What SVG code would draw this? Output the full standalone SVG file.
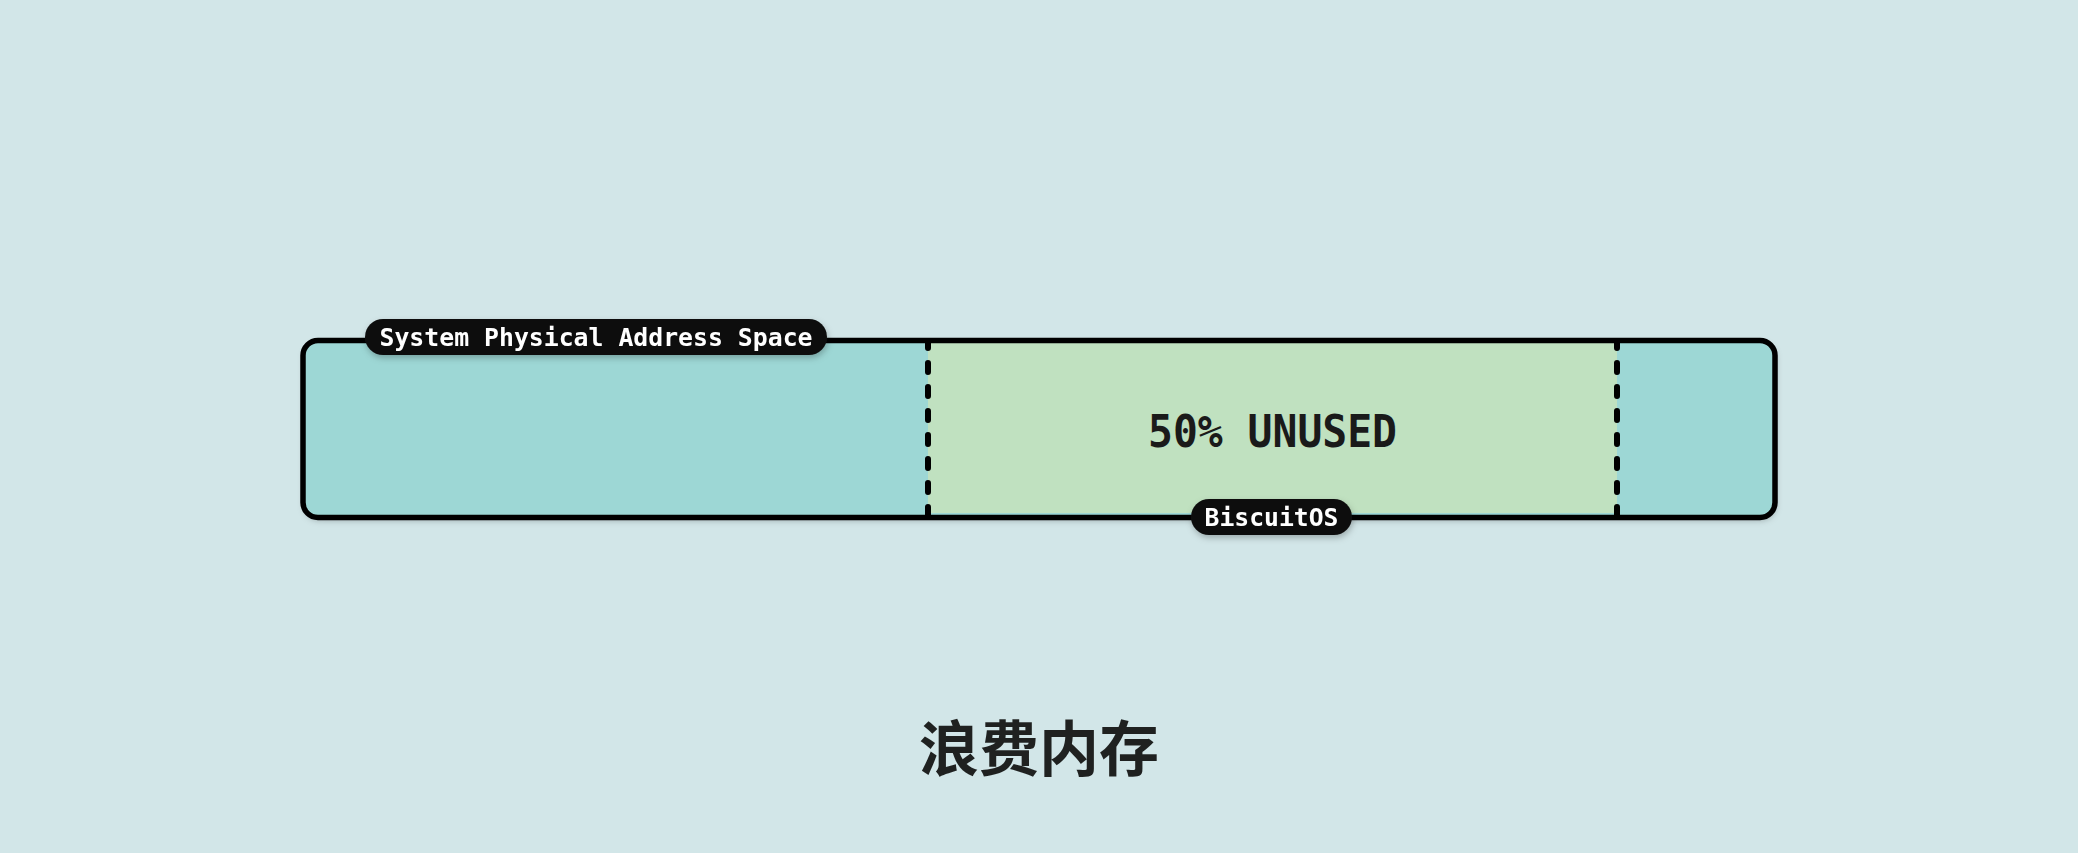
<svg xmlns="http://www.w3.org/2000/svg" width="2078" height="853" viewBox="0 0 2078 853">
  <style>
    .pill { fill: #111111; }
    .pilltext { font-family: "DejaVu Sans Mono", "Liberation Mono", monospace; font-weight: bold; font-size: 24px; fill: #ffffff; text-anchor: middle; dominant-baseline: central; }
    .big { font-family: "DejaVu Sans Mono", "Liberation Mono", monospace; font-weight: bold; font-size: 44px; fill: #1a1a1a; text-anchor: middle; dominant-baseline: central; }
    .title { font-family: "Noto Sans CJK SC", "Noto Sans", sans-serif; font-weight: bold; font-size: 60px; fill: #1f2120; text-anchor: middle; dominant-baseline: central; }
    .divider { stroke: #000000; stroke-width: 6; stroke-linecap: round; stroke-dasharray: 9 15; stroke-dashoffset: 4; fill: none; }
  </style>
  <defs>
    <filter id="shadow" x="-5%" y="-20%" width="110%" height="150%">
      <feDropShadow dx="1" dy="3" stdDeviation="3" flood-color="#000000" flood-opacity="0.25"/>
    </filter>
    <clipPath id="boxclip">
      <rect x="303" y="340.5" width="1472" height="177" rx="15"/>
    </clipPath>
  </defs>
  <rect x="0" y="0" width="2078" height="853" fill="#d2e6e8"/>

  <g id="address-space">
    <rect x="303" y="340.5" width="1472" height="177" rx="15" fill="#9dd7d5" filter="url(#shadow)"/>
    <g clip-path="url(#boxclip)">
      <rect id="unused-region" x="928" y="340" width="689" height="173" fill="#c0e1c0"/>
    </g>
    <rect x="303" y="340.5" width="1472" height="177" rx="15" fill="none" stroke="#000000" stroke-width="5.5"/>
  </g>

  <g id="connectors">
    <line class="divider" x1="928" y1="343" x2="928" y2="515"/>
    <line class="divider" x1="1617" y1="343" x2="1617" y2="515"/>
  </g>

  <g id="unused-label">
    <text class="big" x="1272.5" y="431" textLength="249" lengthAdjust="spacingAndGlyphs">50% UNUSED</text>
  </g>

  <g id="space-label" filter="url(#shadow)">
    <rect class="pill" x="365" y="319" width="462" height="36" rx="18"/>
    <text class="pilltext" x="596" y="337.5" textLength="433" lengthAdjust="spacingAndGlyphs">System Physical Address Space</text>
  </g>

  <g id="biscuitos-label" filter="url(#shadow)">
    <rect class="pill" x="1191" y="499" width="161" height="36" rx="18"/>
    <text class="pilltext" x="1271.5" y="517.5" textLength="134" lengthAdjust="spacingAndGlyphs">BiscuitOS</text>
  </g>

  <g id="title">
    <text class="title" x="1039" y="744">浪费内存</text>
  </g>
</svg>
